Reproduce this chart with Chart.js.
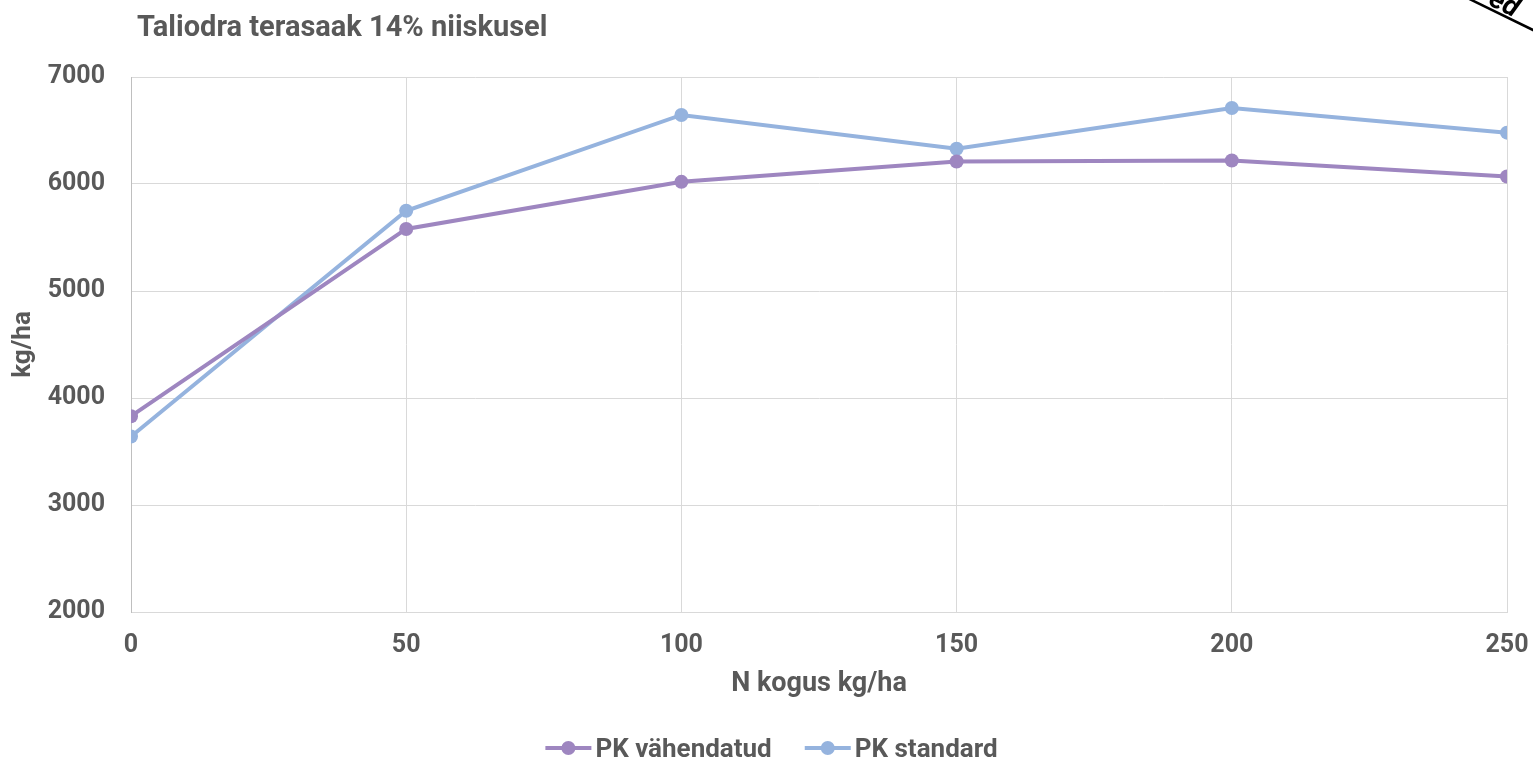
<!DOCTYPE html>
<html>
<head>
<meta charset="utf-8">
<script src="https://cdn.jsdelivr.net/npm/chart.js@4.4.1/dist/chart.umd.min.js"></script>
<style>
  html, body { margin: 0; padding: 0; background: #ffffff; }
  #wrap { width: 1533px; height: 760px; position: relative; }
</style>
</head>
<body>
<div id="wrap"><canvas id="chart" width="1533" height="760"></canvas></div>
<script>
// Nitrogen rate (kg/ha) on the x axis
const nRates = [0, 50, 100, 150, 200, 250];
// Grain yield at 14% moisture, kg/ha
const pkReduced = [3830, 5580, 6020, 6210, 6220, 6070];
const pkStandard = [3640, 5750, 6645, 6330, 6710, 6480];
const seriesNames = ['PK vähendatud', 'PK standard'];
const yTicks = [2000, 3000, 4000, 5000, 6000, 7000];
const chartTitle = 'Taliodra terasaak 14% niiskusel';
const xTitle = 'N kogus kg/ha';
const yTitle = 'kg/ha';

const TEXT = '#595959';
const PURPLE = '#9e86c0';
const BLUE = '#95b3de';
const FONT = 'Roboto';

const toPoints = vals => nRates.map((x, i) => ({ x: x, y: vals[i] }));

// Title, legend and corner mark drawn on the canvas
const decorations = {
  id: 'decorations',
  afterDraw(chart) {
    const ctx = chart.ctx;
    ctx.save();
    ctx.fillStyle = TEXT;
    ctx.font = 'bold 29px ' + FONT;
    ctx.textBaseline = 'alphabetic';
    ctx.textAlign = 'left';
    ctx.fillText(chartTitle, 137, 36);

    // legend
    const colors = [PURPLE, BLUE];
    ctx.font = 'bold 26px ' + FONT;
    const sym = 46, gapTxt = 4, gapItem = 33;
    const widths = seriesNames.map(n => ctx.measureText(n).width);
    const total = widths.reduce((a, w) => a + sym + gapTxt + w, 0) + gapItem;
    let x = 771.5 - total / 2;
    const y = 748;
    seriesNames.forEach((name, i) => {
      ctx.strokeStyle = colors[i];
      ctx.lineWidth = 4;
      ctx.beginPath();
      ctx.moveTo(x, y);
      ctx.lineTo(x + sym, y);
      ctx.stroke();
      ctx.fillStyle = colors[i];
      ctx.beginPath();
      ctx.arc(x + sym / 2, y, 7, 0, Math.PI * 2);
      ctx.fill();
      ctx.fillStyle = TEXT;
      ctx.textBaseline = 'middle';
      ctx.fillText(name, x + sym + gapTxt, y + 2);
      x += sym + gapTxt + widths[i] + gapItem;
    });

    // corner stamp
    ctx.translate(1505, 13);
    ctx.rotate(0.454);
    ctx.fillStyle = '#000000';
    ctx.font = 'italic bold 28px ' + FONT;
    ctx.textBaseline = 'alphabetic';
    ctx.fillText('ed', -20, 0);
    ctx.strokeStyle = '#000000';
    ctx.lineWidth = 2.5;
    ctx.beginPath();
    ctx.moveTo(-40, 3);
    ctx.lineTo(40, 3);
    ctx.stroke();
    ctx.restore();
  }
};

new Chart(document.getElementById('chart'), {
  type: 'line',
  data: {
    datasets: [
      {
        label: seriesNames[0],
        data: toPoints(pkReduced),
        borderColor: PURPLE,
        backgroundColor: PURPLE,
        borderWidth: 4,
        pointRadius: 7,
        pointHoverRadius: 7,
        pointBorderWidth: 0,
        tension: 0
      },
      {
        label: seriesNames[1],
        data: toPoints(pkStandard),
        borderColor: BLUE,
        backgroundColor: BLUE,
        borderWidth: 4,
        pointRadius: 7,
        pointHoverRadius: 7,
        pointBorderWidth: 0,
        tension: 0
      }
    ]
  },
  options: {
    responsive: false,
    animation: false,
    layout: { padding: { left: 0, right: 26, top: 77, bottom: 0 } },
    plugins: {
      legend: { display: false },
      title: { display: false },
      tooltip: { enabled: false }
    },
    scales: {
      x: {
        type: 'linear',
        min: 0,
        max: 250,
        afterBuildTicks(scale) { scale.ticks = nRates.map(v => ({ value: v })); },
        afterFit(scale) { scale.height = 148; scale.paddingLeft = 0; scale.paddingRight = 0; },
        grid: { color: '#d9d9d9', lineWidth: 1, drawTicks: false },
        border: { color: '#d9d9d9', width: 1 },
        ticks: { color: TEXT, font: { family: FONT, size: 25, weight: 'bold' }, padding: 19, maxRotation: 0, callback: v => String(v) },
        title: { display: true, text: xTitle, color: TEXT, font: { family: FONT, size: 27, weight: 'bold' }, padding: { top: 0, bottom: 60 } }
      },
      y: {
        min: 2000,
        max: 7000,
        afterBuildTicks(scale) { scale.ticks = yTicks.map(v => ({ value: v })); },
        afterFit(scale) { scale.width = 131; scale.paddingTop = 0; scale.paddingBottom = 0; },
        grid: { color: '#d9d9d9', lineWidth: 1, drawTicks: false },
        border: { color: '#bfbfbf', width: 1 },
        ticks: { color: TEXT, font: { family: FONT, size: 25, weight: 'bold' }, padding: 26, callback: v => String(v) },
        title: { display: true, text: yTitle, color: TEXT, font: { family: FONT, size: 26, weight: 'bold' }, padding: { top: 8, bottom: 0 } }
      }
    }
  },
  plugins: [decorations]
});
</script>
</body>
</html>
